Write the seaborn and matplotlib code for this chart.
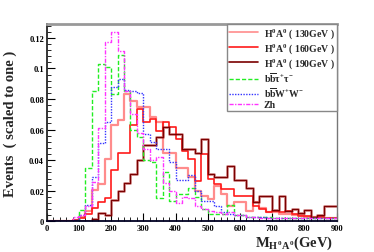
import numpy as np
import pandas as pd
import matplotlib
matplotlib.use("Agg")
import matplotlib.pyplot as plt
from matplotlib.lines import Line2D
from matplotlib.ticker import MultipleLocator
import seaborn as sns

# 20 GeV bins from 0 to 900
centers = np.arange(10, 900, 20)

h130 = [0, 0, 0, 0, 0.001, 0.003, 0.007, 0.0207, 0.0244, 0.041, 0.063, 0.066, 0.083, 0.079,
        0.0745, 0.0745, 0.068, 0.065, 0.045, 0.045, 0.035, 0.035, 0.029, 0.020, 0.0167, 0.0146,
        0.0233, 0.018, 0.0098, 0.0126, 0.0126, 0.007, 0.0126, 0.0085, 0.006, 0.006, 0.005, 0.005,
        0.004, 0.004, 0.003, 0.003, 0.003, 0.002, 0.002]
h160 = [0, 0, 0, 0, 0.001, 0.002, 0.0048, 0.0087, 0.0126, 0.0152, 0.0338, 0.0447, 0.0447, 0.063,
        0.0734, 0.065, 0.067, 0.059, 0.065, 0.062, 0.054, 0.046, 0.041, 0.0266, 0.044, 0.028,
        0.0242, 0.021, 0.021, 0.0163, 0.0163, 0.0163, 0.0102, 0.008, 0.006, 0.007, 0.006, 0.007,
        0.005, 0.0037, 0.0037, 0.002, 0.003, 0.002, 0.0025]
h190 = [0, 0, 0, 0, 0, 0, 0.0005, 0.0013, 0.0054, 0.0041, 0.0139, 0.020, 0.0248, 0.031, 0.040,
        0.050, 0.050, 0.055, 0.062, 0.057, 0.057, 0.047, 0.047, 0.045, 0.054, 0.031, 0.029, 0.029,
        0.036, 0.027, 0.027, 0.022, 0.0124, 0.0167, 0.0167, 0.0074, 0.0167, 0.007, 0.008, 0.0054,
        0.0072, 0.003, 0.004, 0.0102, 0.0102]
bbtautau = [0, 0, 0, 0, 0.001, 0.0076, 0.035, 0.085, 0.103, 0.101, 0.083, 0.109, 0.085, 0.060,
            0.055, 0.040, 0.039, 0.015, 0.032, 0.0135, 0.018, 0.018, 0.022, 0.016, 0.008, 0.005,
            0.005, 0.005, 0.0107, 0.004, 0.004, 0.003, 0.003, 0.003, 0.003, 0.002, 0.002, 0.002,
            0.002, 0.002, 0.002, 0.002, 0.002, 0.002, 0.002]
bbww = [0, 0, 0, 0, 0.001, 0.004, 0.011, 0.029, 0.051, 0.065, 0.088, 0.093, 0.086, 0.085, 0.084,
        0.057, 0.052, 0.047, 0.047, 0.039, 0.027, 0.027, 0.030, 0.020, 0.0135, 0.0135, 0.010,
        0.006, 0.005, 0.004, 0.004, 0.003, 0.003, 0.003, 0.002, 0.002, 0.002, 0.002, 0.002, 0.002,
        0.002, 0.002, 0.002, 0.002, 0.002]
zh = [0, 0, 0, 0, 0.003, 0.004, 0.010, 0.026, 0.061, 0.117, 0.1236, 0.1116, 0.085, 0.070, 0.058,
      0.047, 0.040, 0.042, 0.025, 0.020, 0.012, 0.016, 0.015, 0.010, 0.008, 0.007, 0.006, 0.005,
      0.006, 0.004, 0.004, 0.003, 0.003, 0.002, 0.002, 0.002, 0.002, 0.002, 0.002, 0.002, 0.002,
      0.002, 0.002, 0.002, 0.002]

labels = [r"H$^{\mathbf{0}}$A$^{\mathbf{0}}$ ( 130GeV )",
          r"H$^{\mathbf{0}}$A$^{\mathbf{0}}$ ( 160GeV )",
          r"H$^{\mathbf{0}}$A$^{\mathbf{0}}$ ( 190GeV )",
          r"b$\overline{\mathrm{b}}$τ$^{+}$τ$^{-}$",
          r"b$\overline{\mathrm{b}}$W$^{+}$W$^{-}$",
          "Zh"]

sns.set_style("ticks")
plt.rcParams["font.family"] = ["Liberation Serif", "DejaVu Serif"]
plt.rcParams["font.weight"] = "bold"
plt.rcParams["mathtext.fontset"] = "custom"
plt.rcParams["mathtext.rm"] = "Liberation Serif:bold"
plt.rcParams["mathtext.it"] = "Liberation Serif:bold"
plt.rcParams["mathtext.bf"] = "Liberation Serif:bold"

fig = plt.figure(figsize=(3.74, 2.53), dpi=100)
ax = fig.add_axes([0.125, 0.121, 0.775, 0.780])

styles = [
    (h130, "#ff8c8c", "-", 1.6, 1.0),
    (h160, "#ff1a1a", "-", 1.2, 1.0),
    (h190, "#a01010", "-", 2.0, 0.5),
    (h190, "#7a0000", "-", 0.8, 1.0),
    (bbtautau, "#22ee22", (0, (3, 1.5)), 1.0, 1.0),
    (bbww, "#3333ff", (0, (1, 1)), 1.0, 1.0),
    (zh, "#ff33ff", (0, (3, 1, 1, 1)), 1.0, 1.0),
]
for vals, col, ls, lw, al in styles:
    df = pd.DataFrame({"mass": centers, "w": vals})
    sns.histplot(data=df, x="mass", weights="w", binwidth=20, binrange=(0, 900),
                 element="step", fill=False, color=col, linestyle=ls, linewidth=lw,
                 alpha=al, ax=ax)

ax.set_xlim(0, 900)
ax.set_ylim(0, 0.129)
ax.xaxis.set_major_locator(MultipleLocator(100))
ax.xaxis.set_minor_locator(MultipleLocator(20))
ax.yaxis.set_major_locator(MultipleLocator(0.02))
ax.yaxis.set_minor_locator(MultipleLocator(0.004))
ax.set_yticks([0, 0.02, 0.04, 0.06, 0.08, 0.1, 0.12])
ax.set_yticklabels(["0", "0.02", "0.04", "0.06", "0.08", "0.1", "0.12"])
ax.tick_params(which="both", direction="in", labelsize=6, pad=2, colors="black")
ax.tick_params(which="major", length=6, width=0.8)
ax.tick_params(which="minor", length=3, width=0.6)
for t in ax.get_xticklabels() + ax.get_yticklabels():
    t.set_fontweight("bold")

ax.spines["left"].set_linewidth(1.3)
ax.spines["bottom"].set_linewidth(1.3)
ax.spines["bottom"].set_color("#000022")
ax.spines["top"].set_color("#999999")
ax.spines["top"].set_linewidth(2)
ax.spines["right"].set_color("#777777")
ax.spines["right"].set_linewidth(1)

ax.set_xlabel(r"M$_{H^0A^0}$(GeV)", fontsize=10.5, fontweight="bold")
ax.xaxis.set_label_coords(0.855, -0.062)
ax.set_ylabel("Events  ( scaled to one )", fontsize=10.5, fontweight="bold")
ax.yaxis.set_label_coords(-0.102, 0.5)

handles = [
    Line2D([], [], color="#ff8c8c", lw=1.2),
    Line2D([], [], color="#ff1a1a", lw=1.2),
    Line2D([], [], color="#7a0000", lw=1.2),
    Line2D([], [], color="#22ee22", lw=1.0, ls=(0, (3, 1.5))),
    Line2D([], [], color="#3333ff", lw=1.0, ls=(0, (1, 1))),
    Line2D([], [], color="#ff33ff", lw=1.0, ls=(0, (3, 1, 1, 1))),
]
leg = ax.legend(handles, labels, loc="upper right", bbox_to_anchor=(1.0, 1.0),
                borderaxespad=0, handlelength=3.0, handletextpad=0.6,
                labelspacing=0.1, borderpad=0.2, fancybox=False, framealpha=1,
                edgecolor="#888888", prop={"weight": "bold", "size": 7})
leg.get_frame().set_linewidth(1)

fig.savefig("out.png", dpi=100)
